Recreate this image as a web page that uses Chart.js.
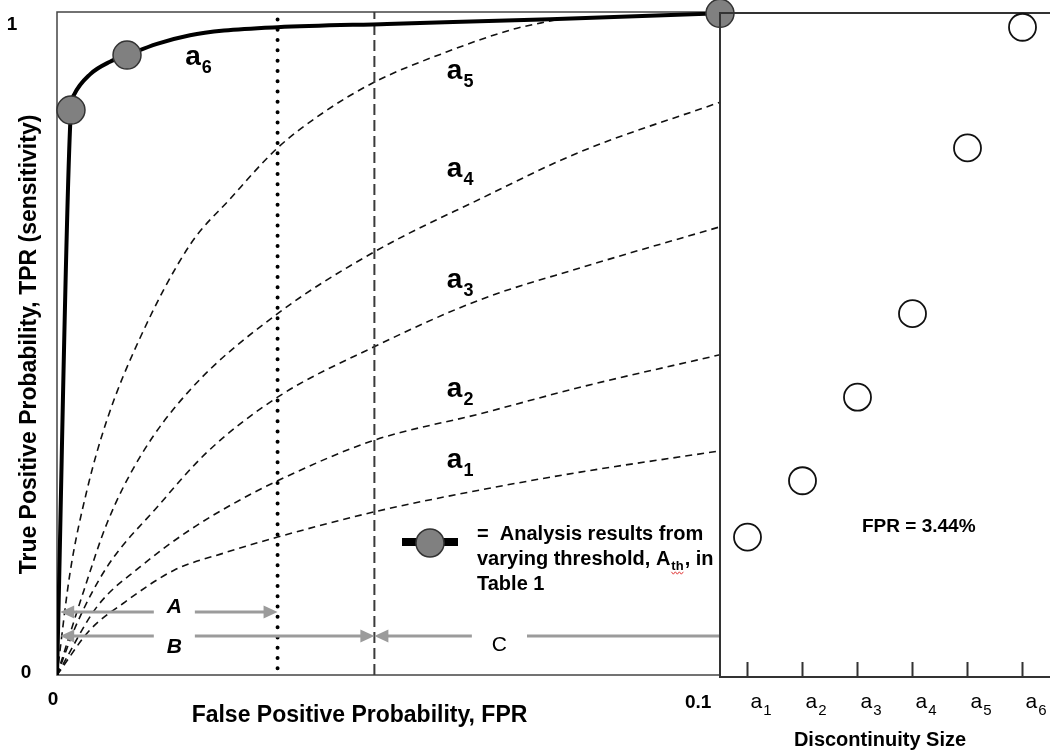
<!DOCTYPE html>
<html>
<head>
<meta charset="utf-8">
<title>ROC curves by discontinuity size</title>
<script src="https://cdn.jsdelivr.net/npm/chart.js@4.4.1/dist/chart.umd.min.js"></script>
<style>
  html, body { margin: 0; padding: 0; background: #fff; }
  #wrap { position: relative; width: 1050px; height: 755px; }
  #wrap canvas { position: absolute; left: 0; top: 0; }
</style>
</head>
<body>
<div id="wrap">
  <canvas id="rocChart" width="1050" height="755"></canvas>
  <canvas id="sizeChart" width="1050" height="755"></canvas>
</div>
<script>
/* ── data ─────────────────────────────────────────── */
const FPR_MAX = 0.1034;   // axis runs a little past the 0.1 tick
const FPR_CUT = 0.0344;   // dotted line (operating point)
const FPR_B   = 0.0495;   // dashed line

const X_TICKS = [0, 0.1];
const Y_TICKS = [0, 1];

const SIZE_LABELS = ['1', '2', '3', '4', '5', '6'];          // a1 .. a6
const TPR_AT_CUT  = [0.208, 0.293, 0.419, 0.545, 0.795, 0.977];

// a6: analysis ROC (solid) and the threshold results on it
const A6_FPR = [0, 0.00218, 0.00265, 0.00515, 0.00827, 0.01092, 0.0156, 0.02075, 0.02605, 0.0344, 0.05148, 0.07691, 0.1034];
const A6_TPR = [0, 0.852, 0.875, 0.906, 0.925, 0.935, 0.952, 0.965, 0.972, 0.977, 0.982, 0.989, 0.998];
const DOT_FPR = [0.00218, 0.01092, 0.1034];
const DOT_TPR = [0.852, 0.935, 0.998];

// a1 .. a5 (dashed)
const A1_FPR = [0, 0.00515, 0.01045, 0.01825, 0.02605, 0.0344, 0.04945, 0.06599, 0.08159, 0.1034];
const A1_TPR = [0, 0.068, 0.109, 0.158, 0.184, 0.208, 0.246, 0.279, 0.306, 0.338];
const A2_FPR = [0, 0.00624, 0.01295, 0.02075, 0.02761, 0.0344, 0.04945, 0.06599, 0.08159, 0.1034];
const A2_TPR = [0, 0.103, 0.163, 0.219, 0.259, 0.293, 0.354, 0.394, 0.434, 0.483];
const A3_FPR = [0, 0.00312, 0.0078, 0.0156, 0.0234, 0.0344, 0.04945, 0.06599, 0.08159, 0.1034];
const A3_TPR = [0, 0.078, 0.163, 0.253, 0.336, 0.419, 0.495, 0.566, 0.614, 0.676];
const A4_FPR = [0, 0.00421, 0.0078, 0.01295, 0.02075, 0.0344, 0.04945, 0.06599, 0.08159, 0.1034];
const A4_TPR = [0, 0.128, 0.229, 0.329, 0.430, 0.545, 0.638, 0.718, 0.789, 0.864];
const A5_FPR = [0, 0.00203, 0.00468, 0.0078, 0.01279, 0.02075, 0.02699, 0.0344, 0.04165, 0.04945, 0.06084, 0.07114, 0.07769];
const A5_TPR = [0, 0.154, 0.279, 0.385, 0.505, 0.649, 0.718, 0.795, 0.849, 0.894, 0.940, 0.974, 0.988];

// curve names, placed at [fpr, tpr]
const CURVE_NAMES = ['6', '5', '4', '3', '2', '1'];
const CURVE_NAME_AT = [[0.0200, 0.920], [0.0608, 0.899], [0.0608, 0.751], [0.0608, 0.584], [0.0608, 0.419], [0.0608, 0.312]];

// extent arrows A, B, C
const SPANS = [
  { label: 'A', from: 0.0005, to: FPR_CUT, tpr: 0.095, gap: [0.0151, 0.0215], heads: [true, true],  dy: -5, style: 'italic bold' },
  { label: 'B', from: 0.0005, to: FPR_B,   tpr: 0.059, gap: [0.0151, 0.0215], heads: [true, true],  dy: 11, style: 'italic bold' },
  { label: 'C', from: FPR_B,  to: FPR_MAX, tpr: 0.059, gap: [0.0647, 0.0733], heads: [true, false], dy: 9,  style: 'normal' }
];

/* ── helpers ──────────────────────────────────────── */
const FONT = '"Liberation Sans", Arial, Helvetica, sans-serif';
const pts = (xs, ys) => xs.map((x, i) => ({ x, y: ys[i] }));

function dashedCurve(label, xs, ys) {
  return {
    label, data: pts(xs, ys), showLine: true,
    borderColor: '#111', borderWidth: 1.6, borderDash: [7, 5],
    pointRadius: 0, cubicInterpolationMode: 'monotone', order: 4
  };
}

// base text with a subscript after it
function subText(ctx, base, sub, x, y, size, subSize, weight) {
  ctx.font = `${weight} ${size}px ${FONT}`;
  ctx.fillText(base, x, y);
  const w = ctx.measureText(base).width;
  ctx.font = `${weight} ${subSize}px ${FONT}`;
  ctx.fillText(sub, x + w + 1, y + subSize * 0.45);
  return x + w + 1 + ctx.measureText(sub).width;
}

function arrowHead(ctx, x, y, dir) {
  ctx.beginPath();
  ctx.moveTo(x, y);
  ctx.lineTo(x - dir * 14, y - 6.5);
  ctx.lineTo(x - dir * 14, y + 6.5);
  ctx.closePath();
  ctx.fill();
}

function text(ctx, str, x, y, font, align = 'center', base = 'middle') {
  ctx.font = `${font} ${FONT}`;
  ctx.textAlign = align;
  ctx.textBaseline = base;
  ctx.fillText(str, x, y);
}

/* ── left panel decorations ───────────────────────── */
const rocDecor = {
  id: 'rocDecor',
  beforeDatasetsDraw(chart) {
    const { ctx, chartArea: a } = chart;
    ctx.save();
    ctx.strokeStyle = '#444';
    ctx.lineWidth = 1.5;
    ctx.strokeRect(a.left, a.top, a.right - a.left, a.bottom - a.top);
    ctx.restore();
  },
  afterDatasetsDraw(chart) {
    const { ctx, chartArea: a, scales: { x, y } } = chart;
    ctx.save();
    ctx.fillStyle = '#000';

    // tick labels
    text(ctx, String(X_TICKS[0]), x.getPixelForValue(X_TICKS[0]) - 4, 700, 'bold 19px');
    text(ctx, String(X_TICKS[1]), x.getPixelForValue(X_TICKS[1]), 703, 'bold 19px');
    text(ctx, String(Y_TICKS[1]), 12, y.getPixelForValue(Y_TICKS[1]) + 13, 'bold 19px');
    text(ctx, String(Y_TICKS[0]), 26, y.getPixelForValue(Y_TICKS[0]) - 2, 'bold 19px');

    // axis titles
    text(ctx, 'False Positive Probability, FPR', (a.left + a.right) / 2 - 29, a.bottom + 41, 'bold 23px');
    ctx.save();
    ctx.translate(30, (a.top + a.bottom) / 2 + 1);
    ctx.rotate(-Math.PI / 2);
    text(ctx, 'True Positive Probability, TPR (sensitivity)', 0, 0, 'bold 23px');
    ctx.restore();

    // curve names
    ctx.textAlign = 'left';
    ctx.textBaseline = 'alphabetic';
    CURVE_NAMES.forEach((n, i) => {
      const [fx, ty] = CURVE_NAME_AT[i];
      subText(ctx, 'a', n, x.getPixelForValue(fx), y.getPixelForValue(ty), 28, 18, 'bold');
    });

    // extent arrows
    ctx.strokeStyle = '#9b9b9b';
    ctx.fillStyle = '#9b9b9b';
    ctx.lineWidth = 3;
    SPANS.forEach(s => {
      const x1 = x.getPixelForValue(s.from), x2 = x.getPixelForValue(s.to);
      const g1 = x.getPixelForValue(s.gap[0]), g2 = x.getPixelForValue(s.gap[1]);
      const py = y.getPixelForValue(s.tpr);
      ctx.beginPath();
      ctx.moveTo(x1 + (s.heads[0] ? 12 : 0), py); ctx.lineTo(g1, py);
      ctx.moveTo(g2, py); ctx.lineTo(x2 - (s.heads[1] ? 12 : 0), py);
      ctx.stroke();
      if (s.heads[0]) arrowHead(ctx, x1, py, -1);
      if (s.heads[1]) arrowHead(ctx, x2, py, 1);
    });
    ctx.fillStyle = '#000';
    SPANS.forEach(s => {
      const cx = (x.getPixelForValue(s.gap[0]) + x.getPixelForValue(s.gap[1])) / 2;
      text(ctx, s.label, cx, y.getPixelForValue(s.tpr) + s.dy, `${s.style} 21px`);
    });

    // key for the grey dots
    ctx.strokeStyle = '#000';
    ctx.lineWidth = 8;
    ctx.beginPath();
    ctx.moveTo(402, 542); ctx.lineTo(458, 542);
    ctx.stroke();
    ctx.beginPath();
    ctx.arc(430, 543, 14, 0, Math.PI * 2);
    ctx.fillStyle = '#808080';
    ctx.fill();
    ctx.lineWidth = 1.5;
    ctx.strokeStyle = '#333';
    ctx.stroke();

    ctx.fillStyle = '#000';
    text(ctx, '=  Analysis results from', 477, 540, 'bold 20px', 'left', 'alphabetic');
    text(ctx, 'varying threshold, A', 477, 565, 'bold 20px', 'left', 'alphabetic');
    ctx.font = `bold 20px ${FONT}`;
    const lx = 477 + ctx.measureText('varying threshold, A').width + 1;
    ctx.font = `bold 13px ${FONT}`;
    ctx.fillText('th', lx, 570);
    const tw = ctx.measureText('th').width;
    // spell-check squiggle under the subscript
    ctx.strokeStyle = '#e03a3a';
    ctx.lineWidth = 1;
    ctx.beginPath();
    for (let k = 0; k <= tw; k += 2) ctx[k ? 'lineTo' : 'moveTo'](lx + k, 573 + (k % 4 ? 1.2 : -1.2));
    ctx.stroke();
    text(ctx, ', in', lx + tw + 1, 565, 'bold 20px', 'left', 'alphabetic');
    text(ctx, 'Table 1', 477, 590, 'bold 20px', 'left', 'alphabetic');

    ctx.restore();
  }
};

new Chart(document.getElementById('rocChart'), {
  type: 'scatter',
  data: {
    datasets: [
      {
        label: 'threshold results', data: pts(DOT_FPR, DOT_TPR),
        pointRadius: 14, pointBackgroundColor: '#808080', pointBorderColor: '#333',
        pointBorderWidth: 1.5, clip: false, order: 0
      },
      {
        label: 'a6', data: pts(A6_FPR, A6_TPR), showLine: true,
        borderColor: '#000', borderWidth: 4, pointRadius: 0,
        cubicInterpolationMode: 'monotone', order: 1
      },
      {
        label: 'FPR cut', data: pts([FPR_CUT, FPR_CUT], [0.01, 1]), showLine: true,
        borderColor: '#000', borderWidth: 4, borderDash: [0, 10.3], borderCapStyle: 'round',
        pointRadius: 0, order: 2
      },
      {
        label: 'FPR B', data: pts([FPR_B, FPR_B], [0, 1]), showLine: true,
        borderColor: '#3a3a3a', borderWidth: 2, borderDash: [11, 5],
        pointRadius: 0, order: 3
      },
      dashedCurve('a5', A5_FPR, A5_TPR),
      dashedCurve('a4', A4_FPR, A4_TPR),
      dashedCurve('a3', A3_FPR, A3_TPR),
      dashedCurve('a2', A2_FPR, A2_TPR),
      dashedCurve('a1', A1_FPR, A1_TPR)
    ]
  },
  options: {
    responsive: false,
    animation: false,
    events: [],
    layout: { autoPadding: false, padding: { left: 57, right: 330, top: 12, bottom: 80 } },
    plugins: { legend: { display: false }, tooltip: { enabled: false } },
    scales: {
      x: { type: 'linear', min: 0, max: FPR_MAX, display: false },
      y: { type: 'linear', min: 0, max: 1, display: false }
    }
  },
  plugins: [rocDecor]
});

/* ── right panel: TPR at the cut, per size ────────── */
const sizeDecor = {
  id: 'sizeDecor',
  beforeDatasetsDraw(chart) {
    const { ctx, chartArea: a, scales: { x } } = chart;
    ctx.save();
    ctx.strokeStyle = '#333';
    ctx.lineWidth = 2;
    ctx.beginPath();
    ctx.moveTo(a.right, a.top + 1); ctx.lineTo(a.left, a.top + 1);
    ctx.lineTo(a.left, a.bottom + 2); ctx.lineTo(a.right, a.bottom + 2);
    SIZE_LABELS.forEach((_, i) => {
      const px = x.getPixelForValue(i);
      ctx.moveTo(px, a.bottom + 2); ctx.lineTo(px, a.bottom - 13);
    });
    ctx.stroke();

    ctx.fillStyle = '#000';
    ctx.textAlign = 'left';
    ctx.textBaseline = 'alphabetic';
    SIZE_LABELS.forEach((n, i) => {
      subText(ctx, 'a', n, x.getPixelForValue(i) + 3, 708, 21, 15, 'normal');
    });
    text(ctx, 'Discontinuity Size', (a.left + a.right) / 2 - 5, 740, 'bold 20px');
    text(ctx, `FPR = ${(FPR_CUT * 100).toFixed(2)}%`, 862, 527, 'bold 19px', 'left');
    ctx.restore();
  }
};

new Chart(document.getElementById('sizeChart'), {
  type: 'line',
  data: {
    labels: SIZE_LABELS,
    datasets: [{
      label: 'TPR at cut', data: TPR_AT_CUT, showLine: false,
      pointRadius: 13.5, pointBackgroundColor: '#fff', pointBorderColor: '#111',
      pointBorderWidth: 1.8, clip: false
    }]
  },
  options: {
    responsive: false,
    animation: false,
    events: [],
    layout: { autoPadding: false, padding: { left: 720, right: 0, top: 12, bottom: 80 } },
    plugins: { legend: { display: false }, tooltip: { enabled: false } },
    scales: {
      x: { type: 'category', offset: true, display: false },
      y: { type: 'linear', min: 0, max: 1, display: false }
    }
  },
  plugins: [sizeDecor]
});
</script>
</body>
</html>
